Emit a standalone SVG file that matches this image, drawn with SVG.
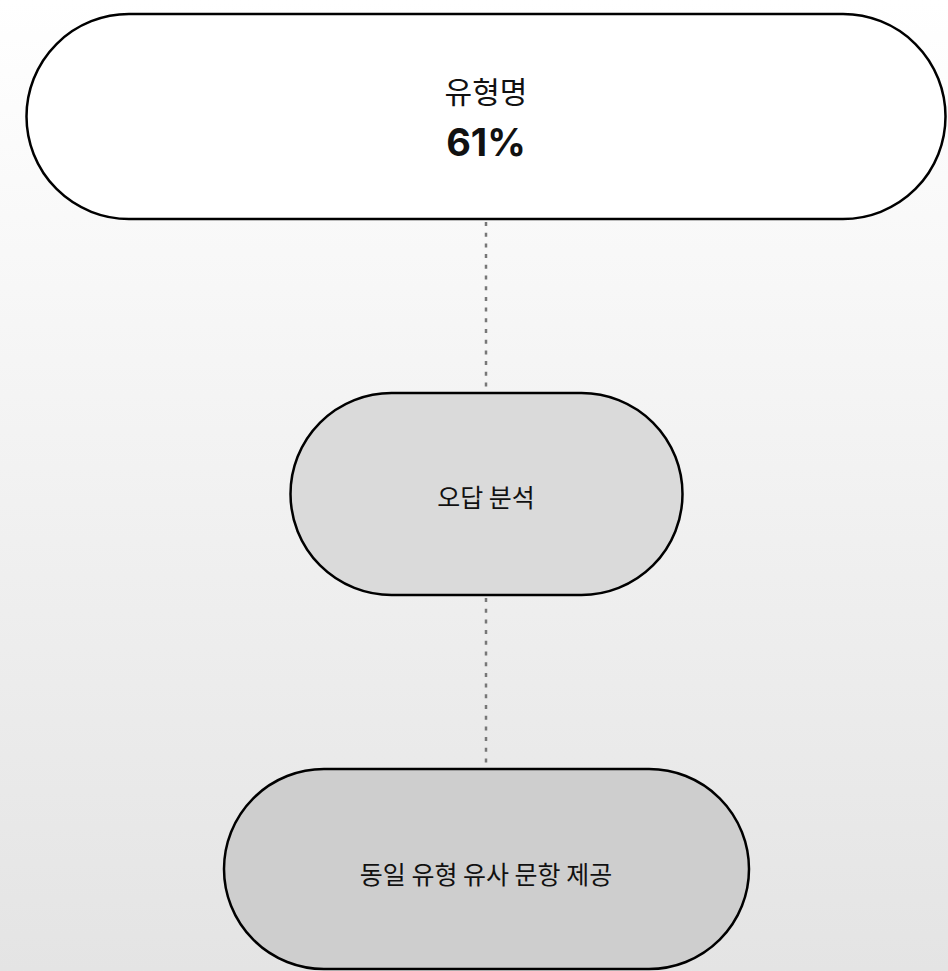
<svg xmlns="http://www.w3.org/2000/svg" width="948" height="971" viewBox="0 0 948 971">
<defs>
<linearGradient id="bg" x1="0" y1="0" x2="0" y2="1">
<stop offset="0" stop-color="#ffffff"/>
<stop offset="1" stop-color="#e4e4e4"/>
</linearGradient>
<style>
.node{stroke:#000;stroke-width:2.5}
.lbl{font-family:"Noto Sans CJK KR","Noto Sans",sans-serif;font-weight:400;fill:#111;text-anchor:middle}
.big{font-family:Inter,"Noto Sans",sans-serif;font-weight:700}
.conn{stroke:#777;stroke-width:2.5;stroke-dasharray:4 6.7;fill:none}
</style>
</defs>
<rect width="948" height="971" fill="url(#bg)"/>
<g id="connectors">
<line class="conn" x1="486" y1="222" x2="486" y2="391"/>
<line class="conn" x1="486" y1="598" x2="486" y2="767"/>
</g>
<g id="node-type">
<rect class="node" x="26.5" y="14" width="919" height="205" rx="102.5" fill="#ffffff"/>
<text class="lbl" x="486" y="103" font-size="30">유형명</text>
<text class="lbl big" x="486" y="156" font-size="38">61%</text>
</g>
<g id="node-analysis">
<rect class="node" x="290.5" y="393" width="392" height="202" rx="101" fill="#dadada"/>
<text class="lbl" x="486" y="507" font-size="25">오답 분석</text>
</g>
<g id="node-similar">
<rect class="node" x="224" y="769" width="525" height="200" rx="100" fill="#cecece"/>
<text class="lbl" x="486" y="884" font-size="25">동일 유형 유사 문항 제공</text>
</g>
</svg>
